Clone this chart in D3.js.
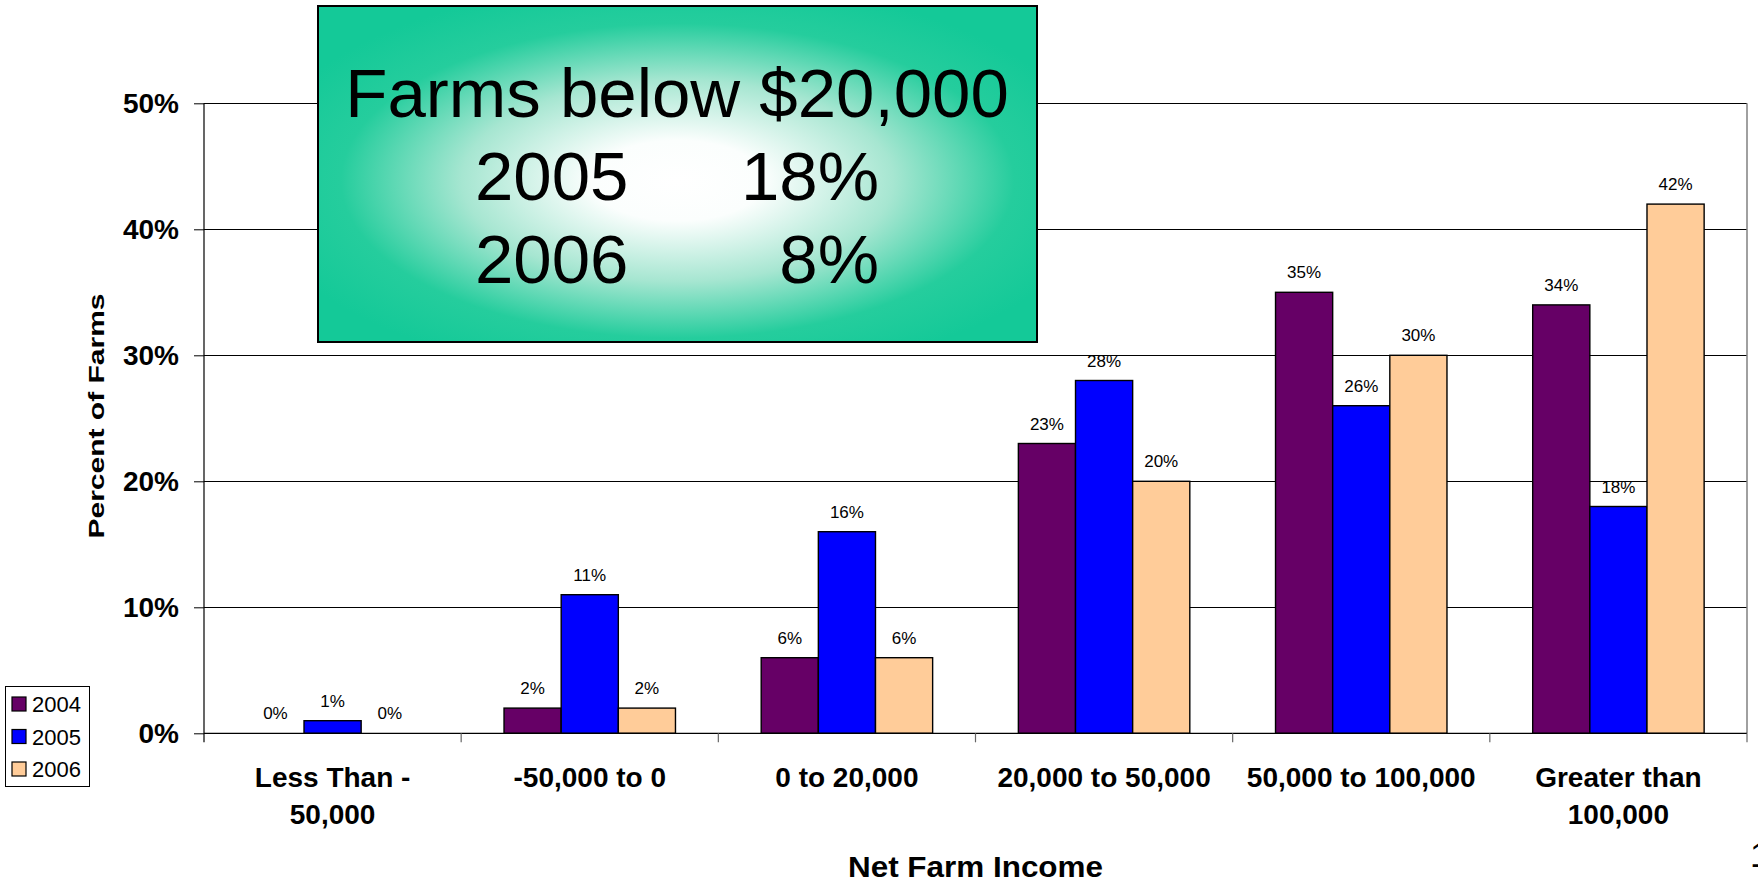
<!DOCTYPE html>
<html>
<head>
<meta charset="utf-8">
<script src="https://cdn.jsdelivr.net/npm/d3@7"></script>
<style>
  html, body { margin: 0; padding: 0; background: #fff; }
  svg { display: block; }
  text { font-family: "Liberation Sans", Arial, sans-serif; }
</style>
</head>
<body>
<svg id="chart" width="1758" height="887"></svg>
<script>
// ---- data ----
const categories = [["Less Than -", "50,000"], ["-50,000 to 0"], ["0 to 20,000"], ["20,000 to 50,000"], ["50,000 to 100,000"], ["Greater than", "100,000"]];
const seriesNames = ["2004", "2005", "2006"];
const values2004 = [0, 2, 6, 23, 35, 34];
const values2005 = [1, 11, 16, 28, 26, 18];
const values2006 = [0, 2, 6, 20, 30, 42];
const seriesColors = ["#660066", "#0000FF", "#FFCC99"];
const yTicks = [0, 10, 20, 30, 40, 50];
const xTitle = "Net Farm Income";
const yTitle = "Percent of Farms";
const boxTitle = "Farms below $20,000";
const boxRows = [["2005", "18%"], ["2006", "8%"]];

(function () {
const allValues = [values2004, values2005, values2006];
const catKeys = categories.map(c => c.join(" "));

const svg = d3.select("#chart");
const pLeft = 204, pRight = 1747, pTop = 103.3, pBottom = 733.3;

const x0 = d3.scaleBand().domain(catKeys).range([pLeft, pRight]).paddingInner(0).paddingOuter(0);
const x1 = d3.scaleBand().domain(seriesNames).range([0, x0.bandwidth()]).paddingInner(0).paddingOuter(0.75);
const y = d3.scaleLinear().domain([0, 50]).range([pBottom, pTop]);

// gridlines
svg.append("g").selectAll("line").data(yTicks.filter(t => t > 0)).join("line")
  .attr("x1", pLeft).attr("x2", pRight)
  .attr("y1", d => Math.round(y(d)) + 0.5).attr("y2", d => Math.round(y(d)) + 0.5)
  .attr("stroke", "#000").attr("stroke-width", 1);

// right border
svg.append("line").attr("x1", pRight).attr("x2", pRight).attr("y1", y(50)).attr("y2", y(0))
  .attr("stroke", "#808080").attr("stroke-width", 1.5);

// bars
const groups = svg.append("g").selectAll("g").data(seriesNames).join("g");
groups.each(function(s, si) {
  const g = d3.select(this);
  const vals = allValues[si];
  g.selectAll("rect").data(vals).join("rect")
    .attr("x", (d, i) => x0(catKeys[i]) + x1(s))
    .attr("width", x1.bandwidth())
    .attr("y", d => y(d))
    .attr("height", d => y(0) - y(d))
    .attr("fill", seriesColors[si])
    .attr("stroke", "#000").attr("stroke-width", d => d > 0 ? 1.4 : 0);
  g.selectAll("text").data(vals).join("text")
    .attr("x", (d, i) => x0(catKeys[i]) + x1(s) + x1.bandwidth() / 2)
    .attr("y", d => y(d) - 14)
    .attr("text-anchor", "middle")
    .attr("font-size", 17)
    .attr("fill", "#000")
    .text(d => d + "%");
});

// y axis
const yAxis = d3.axisLeft(y).tickValues(yTicks).tickFormat(d => d + "%").tickSize(10).tickPadding(15);
const yg = svg.append("g").attr("transform", `translate(${pLeft},0)`).call(yAxis);
yg.select(".domain").remove();
yg.selectAll(".tick line").attr("stroke", "#000");
yg.selectAll(".tick text").attr("font-size", 28).attr("font-weight", "bold").attr("fill", "#000")
  .attr("font-family", "'Liberation Sans', Arial, sans-serif");
svg.append("line").attr("x1", pLeft).attr("x2", pLeft).attr("y1", y(50)).attr("y2", y(0) + 9)
  .attr("stroke", "#000").attr("stroke-width", 1.2);

// x axis line
svg.append("line").attr("x1", pLeft).attr("x2", pRight).attr("y1", y(0)).attr("y2", y(0))
  .attr("stroke", "#000").attr("stroke-width", 1.3);
// x tick marks at category boundaries
const boundaries = catKeys.map(k => x0(k)).concat([x0.range()[1]]);
svg.append("g").selectAll("line").data(boundaries.slice(1)).join("line")
  .attr("x1", d => d).attr("x2", d => d).attr("y1", y(0)).attr("y2", y(0) + 9)
  .attr("stroke", "#666").attr("stroke-width", 1.2);

// category labels
const catG = svg.append("g");
categories.forEach((lines, i) => {
  const cx = x0(catKeys[i]) + x0.bandwidth() / 2;
  lines.forEach((ln, j) => {
    catG.append("text").attr("x", cx).attr("y", 787 + j * 37)
      .attr("text-anchor", "middle").attr("font-size", 28).attr("font-weight", "bold")
      .text(ln);
  });
});

// axis titles
svg.append("text").attr("x", (pLeft + pRight) / 2).attr("y", 877)
  .attr("text-anchor", "middle").attr("font-size", 29).attr("font-weight", "bold")
  .attr("textLength", 255).attr("lengthAdjust", "spacingAndGlyphs")
  .text(xTitle);
svg.append("text").attr("transform", `translate(104,416) rotate(-90)`)
  .attr("text-anchor", "middle").attr("font-size", 22).attr("font-weight", "bold")
  .attr("textLength", 245).attr("lengthAdjust", "spacingAndGlyphs")
  .text(yTitle);

// legend
const lg = svg.append("g");
lg.append("rect").attr("x", 5.5).attr("y", 686.5).attr("width", 84).attr("height", 100)
  .attr("fill", "#fff").attr("stroke", "#000").attr("stroke-width", 1);
seriesNames.forEach((s, i) => {
  const cy = 704 + i * 32.5;
  lg.append("rect").attr("x", 12).attr("y", cy - 7).attr("width", 14).attr("height", 14)
    .attr("fill", seriesColors[i]).attr("stroke", "#000").attr("stroke-width", 1.2);
  lg.append("text").attr("x", 32).attr("y", cy + 8).attr("font-size", 22).text(s);
});

// annotation box
const defs = svg.append("defs");
const rg = defs.append("radialGradient").attr("id", "boxGrad")
  .attr("cx", "0.5").attr("cy", "0.52").attr("r", "0.6").attr("fx", "0.5").attr("fy", "0.52");
rg.append("stop").attr("offset", "0").attr("stop-color", "#ffffff");
rg.append("stop").attr("offset", "0.2").attr("stop-color", "#fbfefd");
rg.append("stop").attr("offset", "0.5").attr("stop-color", "#a6e6d1");
rg.append("stop").attr("offset", "0.78").attr("stop-color", "#25cd9d");
rg.append("stop").attr("offset", "1").attr("stop-color", "#14c998");
svg.append("rect").attr("x", 318).attr("y", 6).attr("width", 719).attr("height", 336)
  .attr("fill", "url(#boxGrad)").attr("stroke", "#000").attr("stroke-width", 2);
svg.append("text").attr("x", 677).attr("y", 117).attr("text-anchor", "middle")
  .attr("font-size", 69).attr("fill", "#000").text(boxTitle);
boxRows.forEach((r, i) => {
  svg.append("text").attr("x", 475).attr("y", 200 + i * 83).attr("font-size", 69).text(r[0]);
  svg.append("text").attr("x", 879).attr("y", 200 + i * 83).attr("text-anchor", "end")
    .attr("font-size", 69).text(r[1]);
});

// page number fragment (cut off at the right edge, as in the original)
svg.append("text").attr("x", 1750).attr("y", 867).attr("font-size", 35)
  .attr("font-family", "'Liberation Serif', 'Times New Roman', serif").text("1");
})();
</script>
</body>
</html>
